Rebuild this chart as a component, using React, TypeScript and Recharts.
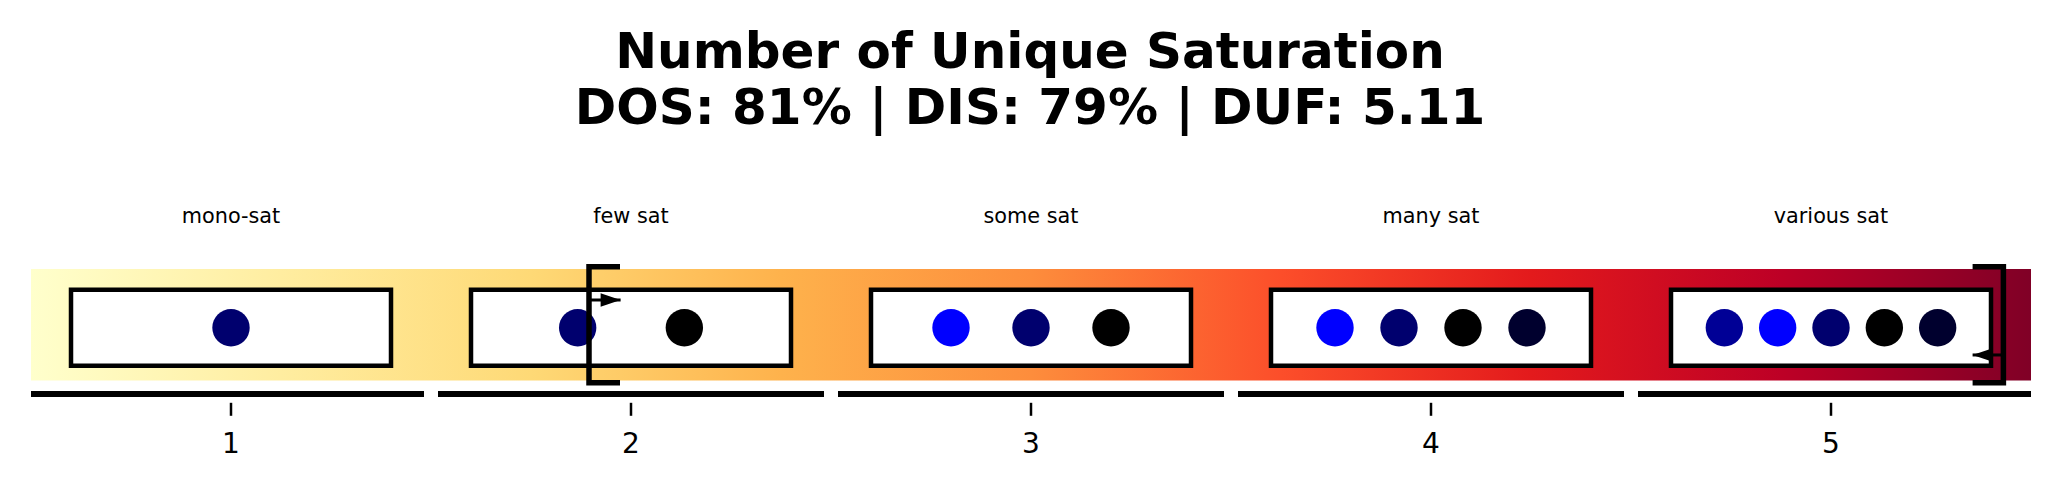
import { ComposedChart, XAxis, YAxis, Scatter, ReferenceArea } from 'recharts';

const TITLE_LINES = ['Number of Unique Saturation', 'DOS: 81% | DIS: 79% | DUF: 5.11'];

const CATEGORIES = [1, 2, 3, 4, 5];
const CATEGORY_LABELS = ['mono-sat', 'few sat', 'some sat', 'many sat', 'various sat'];

// one colour per unique saturation value in each box
const DOT_COLORS = [
  ['#00006e'],
  ['#00006e', '#000000'],
  ['#0000ff', '#00006e', '#000000'],
  ['#0000ff', '#00006e', '#000000', '#00002e'],
  ['#000096', '#0000ff', '#00006e', '#000000', '#00002e'],
];

// YlOrRd colour ramp for the background band
const RAMP = ['#ffffcc', '#ffeda0', '#fed976', '#feb24c', '#fd8d3c', '#fc4e2a', '#e31a1c', '#bd0026', '#800026'];

// range markers: bracket x, direction, arrow y, arrow tip x
const BRACKET_LOW = { x: 1.895, arm: 1.9725, arrowY: 0.222, tip: 1.974 };
const BRACKET_HIGH = { x: 5.431, arm: 5.354, arrowY: -0.271, tip: 5.354 };

const X_MIN = 0.5;
const X_MAX = 5.5;
const BOX_HALF = 0.4;
const BOX_TOP = 0.314;
const BOX_BOTTOM = -0.368;
const DOT_Y = -0.027;
const LABEL_Y = 0.91;
const AXIS_Y = -0.621;
const BRACKET_H = 0.52;
const GAP = 0.0175;

const dots = CATEGORIES.flatMap((c, i) => {
  const n = DOT_COLORS[i].length;
  return DOT_COLORS[i].map((color, k) => ({
    x: c - BOX_HALF + (2 * BOX_HALF * (k + 1)) / (n + 1),
    y: DOT_Y,
    color,
  }));
});

const labels = CATEGORIES.map((c, i) => ({ x: c, y: LABEL_Y, label: CATEGORY_LABELS[i] }));

const axisSegments = CATEGORIES.map((c) => [
  { x: c === CATEGORIES[0] ? X_MIN : c - 0.5 + GAP, y: AXIS_Y },
  { x: c === CATEGORIES[CATEGORIES.length - 1] ? X_MAX : c + 0.5 - GAP, y: AXIS_Y },
]);

const bracketPath = (b: typeof BRACKET_LOW) => [
  { x: b.arm, y: BRACKET_H },
  { x: b.x, y: BRACKET_H },
  { x: b.x, y: -BRACKET_H },
  { x: b.arm, y: -BRACKET_H },
];

const arrowPath = (b: typeof BRACKET_LOW, dir: number) => [
  { x: b.x, y: b.arrowY },
  { x: b.tip, y: b.arrowY, head: dir },
];

const font = '"DejaVu Sans", sans-serif';

const Empty = () => <g />;

const Dot = (props: any) => (
  <circle cx={props.cx} cy={props.cy} r={18.7} fill={props.payload.color} />
);

const Label = (props: any) => (
  <text x={props.cx} y={props.cy} textAnchor="middle" fontSize={20.8} fontFamily={font} fill="#000">
    {props.payload.label}
  </text>
);

const ArrowHead = (props: any) => {
  const d = props.payload.head;
  if (!d) return <g />;
  const { cx, cy } = props;
  return <polygon points={`${cx},${cy} ${cx - 20 * d},${cy - 6.7} ${cx - 20 * d},${cy + 6.7}`} fill="#000" />;
};

export default function App() {
  return (
    <div style={{ position: 'relative', width: 2060, height: 488, background: '#fff' }}>
      <style>{'body{margin:0}'}</style>
      <div
        style={{
          position: 'absolute',
          top: 22.6,
          left: 0,
          width: 2060,
          textAlign: 'center',
          fontFamily: font,
          fontWeight: 'bold',
          fontSize: 50,
          lineHeight: '56.7px',
          color: '#000',
        }}
      >
        {TITLE_LINES.map((t) => (
          <div key={t}>{t}</div>
        ))}
      </div>
      <ComposedChart width={2060} height={488} margin={{ top: 179.8, right: 29, bottom: 25.2, left: 31 }}>
        <defs>
          <linearGradient id="ylorrd" x1="0" y1="0" x2="1" y2="0">
            {RAMP.map((c, i) => (
              <stop key={c} offset={i / (RAMP.length - 1)} stopColor={c} />
            ))}
          </linearGradient>
        </defs>
        <XAxis
          dataKey="x"
          type="number"
          domain={[X_MIN, X_MAX]}
          ticks={CATEGORIES}
          interval={0}
          height={60}
          axisLine={false}
          tickSize={13}
          tickMargin={17.6}
          tickLine={{ stroke: '#000', strokeWidth: 2.5 }}
          tick={{ fontSize: 28, fontFamily: font, fill: '#000' }}
        />
        <YAxis dataKey="y" type="number" domain={[-0.7, 1.3]} hide />
        <ReferenceArea
          x1={X_MIN}
          x2={X_MAX}
          y1={-0.5}
          y2={0.5}
          fill="url(#ylorrd)"
          fillOpacity={1}
          stroke="none"
        />
        {CATEGORIES.map((c) => (
          <ReferenceArea
            key={c}
            x1={c - BOX_HALF}
            x2={c + BOX_HALF}
            y1={BOX_BOTTOM}
            y2={BOX_TOP}
            fill="#fff"
            fillOpacity={1}
            stroke="#000"
            strokeWidth={4.5}
          />
        ))}
        {axisSegments.map((seg, i) => (
          <Scatter
            key={i}
            data={seg}
            line={{ stroke: '#000', strokeWidth: 6 }}
            shape={Empty}
            isAnimationActive={false}
          />
        ))}
        <Scatter data={labels} shape={Label} isAnimationActive={false} />
        <Scatter data={dots} shape={Dot} isAnimationActive={false} />
        <Scatter
          data={bracketPath(BRACKET_LOW)}
          line={{ stroke: '#000', strokeWidth: 5.5 }}
          shape={Empty}
          isAnimationActive={false}
        />
        <Scatter
          data={bracketPath(BRACKET_HIGH)}
          line={{ stroke: '#000', strokeWidth: 5.5 }}
          shape={Empty}
          isAnimationActive={false}
        />
        <Scatter
          data={arrowPath(BRACKET_LOW, 1)}
          line={{ stroke: '#000', strokeWidth: 3 }}
          shape={ArrowHead}
          isAnimationActive={false}
        />
        <Scatter
          data={arrowPath(BRACKET_HIGH, -1)}
          line={{ stroke: '#000', strokeWidth: 3 }}
          shape={ArrowHead}
          isAnimationActive={false}
        />
      </ComposedChart>
    </div>
  );
}
